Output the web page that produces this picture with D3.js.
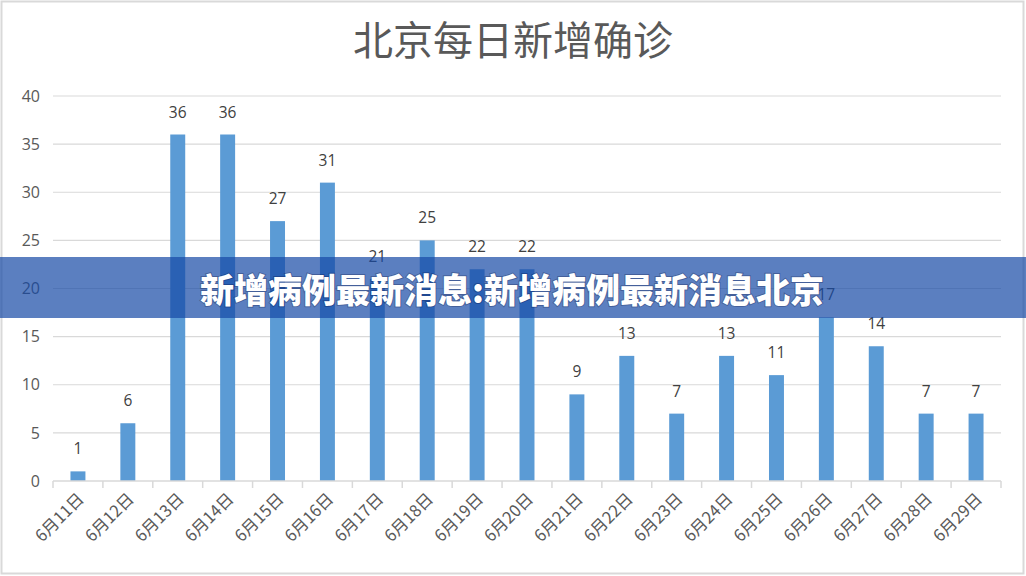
<!DOCTYPE html>
<html>
<head>
<meta charset="utf-8">
<script src="https://cdn.jsdelivr.net/npm/d3@7"></script>
<style>
  body { margin: 0; background: #fff; }
  svg { display: block; font-family: "Noto Sans CJK SC", "Noto Sans", sans-serif; }
</style>
</head>
<body>
<div id="container"></div>
<script>
/* DATA */
const dates = ["6月11日","6月12日","6月13日","6月14日","6月15日","6月16日","6月17日","6月18日","6月19日","6月20日",
               "6月21日","6月22日","6月23日","6月24日","6月25日","6月26日","6月27日","6月28日","6月29日"];
const cases = [1, 6, 36, 36, 27, 31, 21, 25, 22, 22, 9, 13, 7, 13, 11, 17, 14, 7, 7];
const yTicks = [0, 5, 10, 15, 20, 25, 30, 35, 40];
const titleText = "北京每日新增确诊";
const bannerText = "新增病例最新消息:新增病例最新消息北京";

/* CONSTANTS */
const width = 1026;
const height = 576;
const margin = {top: 96, bottom: 95, left: 53, right: 25};

const svg = d3.select("#container")
  .append("svg")
  .attr("width", width)
  .attr("height", height)

// outer frame
svg.append("rect")
  .attr("x", 1.5).attr("y", 1.5)
  .attr("width", width - 4).attr("height", height - 4)
  .attr("fill", "#fff")
  .attr("stroke", "#d9d9d9")
  .attr("stroke-width", 2)

/* SCALES */
const xScale = d3.scaleBand()
  .domain(dates)
  .range([margin.left, width - margin.right])
  .paddingInner(0.7)
  .paddingOuter(0.35)

const yScale = d3.scaleLinear()
  .domain([0, 40])
  .range([height - margin.bottom, margin.top])

// gridlines
svg.append("g")
  .selectAll("line")
  .data(yTicks.filter(d => d > 0))
  .join("line")
  .attr("x1", margin.left)
  .attr("x2", width - margin.right)
  .attr("y1", d => yScale(d))
  .attr("y2", d => yScale(d))
  .attr("stroke", "#d9d9d9")
  .attr("stroke-width", 1.2)

// y axis labels
const yAxis = d3.axisLeft(yScale).tickValues(yTicks).tickSize(0).tickPadding(13)
svg.append("g")
  .attr("transform", `translate(${margin.left},0)`)
  .call(yAxis)
  .call(g => g.select(".domain").remove())
  .call(g => g.selectAll("text")
    .attr("font-size", 16)
    .attr("fill", "#595959")
    .attr("font-family", "'Open Sans', 'Noto Sans', sans-serif"))

// bars
svg.append("g")
  .selectAll("rect")
  .data(cases)
  .join("rect")
  .attr("x", (d, i) => xScale(dates[i]))
  .attr("y", d => yScale(d))
  .attr("width", xScale.bandwidth())
  .attr("height", d => yScale(0) - yScale(d))
  .attr("fill", "#5b9bd5")

// value labels
svg.append("g")
  .selectAll("text")
  .data(cases)
  .join("text")
  .attr("x", (d, i) => xScale(dates[i]) + xScale.bandwidth() / 2)
  .attr("y", d => yScale(d) - 17)
  .attr("text-anchor", "middle")
  .attr("font-size", 15.5)
  .attr("font-family", "'Open Sans', 'Noto Sans', sans-serif")
  .attr("fill", "#404040")
  .text(d => d)

// x axis
const step = xScale.step();
const xAxisG = svg.append("g")
  .attr("transform", `translate(0,${yScale(0)})`)

xAxisG.append("line")
  .attr("x1", margin.left).attr("x2", width - margin.right)
  .attr("stroke", "#d9d9d9").attr("stroke-width", 1.5)

xAxisG.selectAll(".tick")
  .data(d3.range(dates.length + 1))
  .join("line")
  .attr("x1", i => margin.left + i * step)
  .attr("x2", i => margin.left + i * step)
  .attr("y1", 0).attr("y2", 7)
  .attr("stroke", "#d9d9d9").attr("stroke-width", 1.5)

xAxisG.selectAll("text")
  .data(dates)
  .join("text")
  .attr("transform", d => `translate(${xScale(d) + xScale.bandwidth() / 2 + 3},${15}) rotate(-45)`)
  .attr("text-anchor", "end")
  .attr("dy", "0.35em")
  .attr("font-size", 16.5)
  .attr("fill", "#595959")
  .text(d => d)

// title
svg.append("text")
  .attr("x", width / 2)
  .attr("y", 55)
  .attr("text-anchor", "middle")
  .attr("font-size", 40)
  .attr("fill", "#595959")
  .text(titleText)

// banner overlay
svg.append("rect")
  .attr("x", 0).attr("y", 257)
  .attr("width", width).attr("height", 61)
  .attr("fill", "rgb(21,72,165)")
  .attr("opacity", 0.7)

svg.append("text")
  .attr("x", 512)
  .attr("y", 291)
  .attr("dy", "0.35em")
  .attr("text-anchor", "middle")
  .attr("font-size", 34)
  .attr("font-weight", 900)
  .attr("fill", "#fff")
  .style("paint-order", "stroke")
  .attr("stroke", "rgba(0,0,40,0.25)")
  .attr("stroke-width", 2)
  .text(bannerText)
</script>
</body>
</html>
